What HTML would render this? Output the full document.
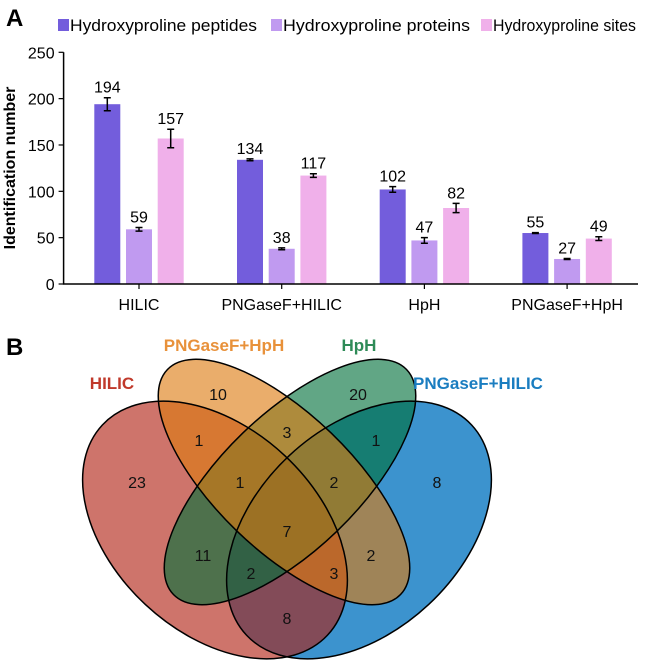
<!DOCTYPE html>
<html><head><meta charset="utf-8"><style>
body{margin:0;background:#fff;font-family:"Liberation Sans",Arial,sans-serif;overflow:hidden}
svg text{font-family:"Liberation Sans",Arial,sans-serif}
</style></head><body>
<svg id="fig" width="648" height="664" viewBox="0 0 648 664" xmlns="http://www.w3.org/2000/svg">
<text x="6" y="26" font-size="24" font-weight="bold">A</text>
<g id="legend"></g>
<g id="chart"></g>
<text transform="translate(15,168) rotate(-90)" text-anchor="middle" font-size="16" font-weight="bold">Identification number</text>

<text x="6" y="355" font-size="24" font-weight="bold">B</text>
<g>
<ellipse cx="359" cy="530" rx="154" ry="102" transform="rotate(-43 359 530)" fill="#1a80c6" fill-opacity="0.85"/>
<ellipse cx="215" cy="530" rx="154" ry="102" transform="rotate(43 215 530)" fill="#b01f10" fill-opacity="0.62"/>
<ellipse cx="290" cy="482" rx="162" ry="68" transform="rotate(-44 290 482)" fill="#00703a" fill-opacity="0.62"/>
<ellipse cx="284" cy="482" rx="162" ry="68" transform="rotate(44 284 482)" fill="#dd7a10" fill-opacity="0.62"/>
<g fill="none" stroke="#000" stroke-width="1.5">
<ellipse cx="359" cy="530" rx="154" ry="102" transform="rotate(-43 359 530)"/>
<ellipse cx="215" cy="530" rx="154" ry="102" transform="rotate(43 215 530)"/>
<ellipse cx="290" cy="482" rx="162" ry="68" transform="rotate(-44 290 482)"/>
<ellipse cx="284" cy="482" rx="162" ry="68" transform="rotate(44 284 482)"/>
</g>
</g>
<g font-size="17" font-weight="bold" text-anchor="middle">
<text x="112" y="389" fill="#c0392b">HILIC</text>
<text x="224" y="351" fill="#e8913a">PNGaseF+HpH</text>
<text x="359" y="351" fill="#2e8b57">HpH</text>
<text x="478" y="389" fill="#1a7dc0">PNGaseF+HILIC</text>
</g>
<g id="vnums" font-size="16" text-anchor="middle" fill="#111"></g>
</svg>
<script>
const categories = ["HILIC","PNGaseF+HILIC","HpH","PNGaseF+HpH"];
const seriesNames = ["Hydroxyproline peptides","Hydroxyproline proteins","Hydroxyproline sites"];
const peptides = [194,134,102,55];
const proteins = [59,38,47,27];
const sites = [157,117,82,49];
const peptidesErr = [7,1,3,0.5];
const proteinsErr = [2,1,3,0.5];
const sitesErr = [10,2,5,2];
const yTicks = [0,50,100,150,200,250];
const vennCounts = ["10","20","1","3","1","23","1","2","8","7","11","2","2","3","8"];
const vennX = [218,358,199,287,376,137,240,334,437,287,203,371,251,334,287];
const vennY = [394,394,440,432,440,482,482,482,482,531,555,555,573,573,618];

const NS="http://www.w3.org/2000/svg";
const colors=["#735ddc","#c09af0","#f0b0ea"];
const X0=63.6,X1=638,Y0=284,Y250=52.3;
const y=v=>Y0-(v/250)*(Y0-Y250);
const cx=i=>139+i*142.7;
function mk(t,a,p){const e=document.createElementNS(NS,t);for(const k in a)e.setAttribute(k,a[k]);p.appendChild(e);return e;}
const chart=document.getElementById('chart');
const leg=document.getElementById('legend');
const legX=[58,271,481];
seriesNames.forEach((n,i)=>{
  const r=mk('rect',{x:legX[i],y:19,width:11,height:12,fill:colors[i]},leg);
  
  
  const t=mk('text',{x:legX[i]+12,y:31,'font-size':17,textLength:(i==0?187:i==1?187:143),lengthAdjust:'spacingAndGlyphs'},leg);t.textContent=n;
  
  
});
yTicks.forEach(v=>{
  const l=mk('line',{x1:X0-5,x2:X0,y1:y(v),y2:y(v),stroke:'#000','stroke-width':1.2},chart);
  
  
  const t=mk('text',{x:X0-9,y:y(v)+6,'font-size':16,'text-anchor':'end'},chart);t.textContent=v;
  
  
});
const series=[peptides,proteins,sites],errs=[peptidesErr,proteinsErr,sitesErr];
categories.forEach((c,ci)=>{
  series.forEach((s,si)=>{
    const bx=cx(ci)+(si-1)*31.7-13;
    const b=mk('rect',{x:bx,y:y(s[ci]),width:26,height:Y0-y(s[ci]),fill:colors[si]},chart);
    
    
    const e=errs[si][ci],m=bx+13;
    const eg=mk('path',{d:`M${m},${y(s[ci]+e)}V${y(s[ci]-e)}M${m-3.5},${y(s[ci]+e)}H${m+3.5}M${m-3.5},${y(s[ci]-e)}H${m+3.5}`,stroke:'#000','stroke-width':1.5,fill:'none'},chart);
    
    
    const t=mk('text',{x:m,y:y(s[ci]+e)-5,'font-size':16,'text-anchor':'middle'},chart);t.textContent=s[ci];
    
    
  });
  const tk=mk('line',{x1:cx(ci),x2:cx(ci),y1:Y0,y2:Y0+5,stroke:'#000','stroke-width':1.2},chart);
  
  
  const t=mk('text',{x:cx(ci),y:310,'font-size':16,'text-anchor':'middle'},chart);t.textContent=c;
  
  
});
const ax=mk('path',{d:`M${X0},${Y250}V${Y0}H${X1}`,stroke:'#000','stroke-width':1.5,fill:'none'},chart);


const vn=document.getElementById('vnums');
vennCounts.forEach((v,i)=>{
  const t=mk('text',{x:vennX[i],y:vennY[i]+6},vn);t.textContent=v;
  
  
});
</script>
</body></html>
